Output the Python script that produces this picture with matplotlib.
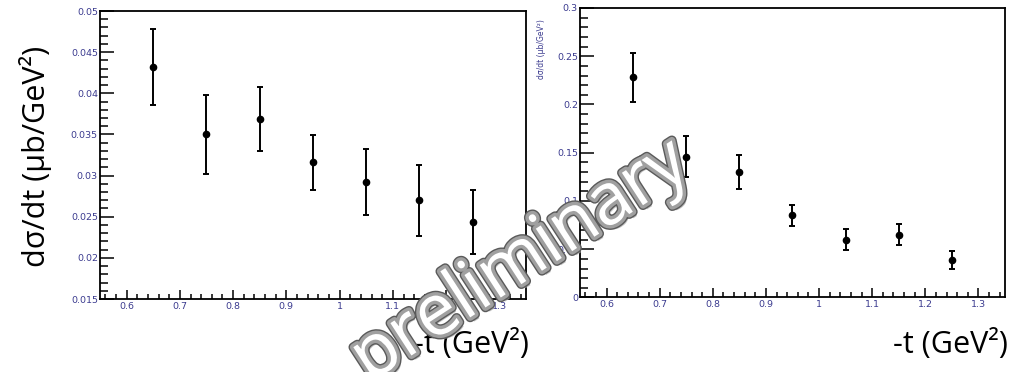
import matplotlib
matplotlib.use("Agg")
import matplotlib.pyplot as plt
import matplotlib.patheffects as pe
from matplotlib.ticker import MultipleLocator, FormatStrFormatter

# -t bin centres (GeV^2)
t_bins = [0.65, 0.75, 0.85, 0.95, 1.05, 1.15, 1.25]

# left panel: cross section and errors
xs_left = [0.0432, 0.0350, 0.0369, 0.0316, 0.0292, 0.0270, 0.0244]
err_left = [0.0046, 0.0048, 0.0039, 0.0033, 0.0040, 0.0043, 0.0039]

# right panel: cross section and errors
xs_right = [0.228, 0.146, 0.130, 0.085, 0.060, 0.065, 0.039]
err_right = [0.025, 0.021, 0.018, 0.011, 0.011, 0.011, 0.009]

tick_col = '#3b3b8f'

fig = plt.figure(figsize=(10.09, 3.72), dpi=100)
ax1 = fig.add_axes([0.0991, 0.1962, 0.4222, 0.7742])
ax2 = fig.add_axes([0.5748, 0.2003, 0.4212, 0.7782])


def style_axis(ax, ylim, ymaj, ymin):
    ax.set_xlim(0.55, 1.35)
    ax.set_ylim(*ylim)
    ax.xaxis.set_major_locator(MultipleLocator(0.1))
    ax.xaxis.set_minor_locator(MultipleLocator(0.02))
    ax.yaxis.set_major_locator(MultipleLocator(ymaj))
    ax.yaxis.set_minor_locator(MultipleLocator(ymin))
    ax.xaxis.set_major_formatter(FormatStrFormatter('%g'))
    ax.yaxis.set_major_formatter(FormatStrFormatter('%g'))
    for s in ax.spines.values():
        s.set_linewidth(1.3)
    ax.tick_params(which='both', direction='in', top=False, right=False,
                   labelsize=6.8, labelcolor=tick_col, width=1.1)
    ax.tick_params(axis='y', which='major', length=10, pad=1.5)
    ax.tick_params(axis='y', which='minor', length=5.5)
    ax.tick_params(axis='x', which='major', length=6.5, pad=2)
    ax.tick_params(axis='x', which='minor', length=3.5)


style_axis(ax1, (0.015, 0.05), 0.005, 0.001)
style_axis(ax2, (0.0, 0.3), 0.05, 0.01)

ax1.errorbar(t_bins, xs_left, yerr=err_left, fmt='o', color='black',
             ms=4.5, elinewidth=1.4, capsize=2.2, capthick=1.4)
ax2.errorbar(t_bins, xs_right, yerr=err_right, fmt='o', color='black',
             ms=4.5, elinewidth=1.4, capsize=2.2, capthick=1.4)

# small axis title of the right panel
fig.text(0.537, 0.868, 'dσ/dt (μb/GeV²)', rotation=90, fontsize=5.5,
         color=tick_col, ha='center', va='center')

# big labels
big = dict(family=['Open Sans', 'DejaVu Sans'], fontsize=22, color='black')
fig.text(0.035, 0.58, 'dσ/dt (μb/GeV²)', rotation=90,
         ha='center', va='center', **big)
fig.text(0.524, 0.075, '-t (GeV²)', ha='right', va='center', **big)
fig.text(0.999, 0.075, '-t (GeV²)', ha='right', va='center', **big)

# watermark
fig.text(0.516, 0.295, 'preliminary', rotation=33, fontsize=52,
         family=['Open Sans', 'DejaVu Sans'], color='white',
         ha='center', va='center', zorder=10,
         path_effects=[pe.SimplePatchShadow(offset=(3, -3), shadow_rgbFace='#a8a8a8', alpha=0.7),
                       pe.Stroke(linewidth=7, foreground='#5a5a5a'),
                       pe.Stroke(linewidth=5, foreground='#a0a0a0'),
                       pe.Normal()])

fig.savefig('out.png', dpi=100)
